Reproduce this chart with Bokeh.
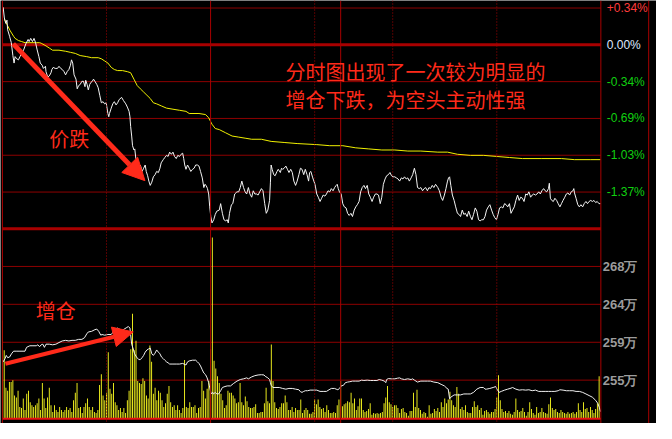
from bokeh.plotting import figure
from bokeh.models import Range1d, Span, Label, Arrow, NormalHead
from bokeh.core.properties import value
from bokeh.embed import file_html
from bokeh.resources import INLINE

# ---------------- data ----------------
N_MIN = 345  # trading minutes in the session shown

# last price, % change vs. previous settlement
PRICE_T = [0.4, 1.1, 1.9, 2.6, 3.0, 4.1, 5.1, 6.0, 6.7, 7.3, 8.2, 9.2, 10.1, 11.1, 12.4, 13.5, 14.8, 15.4, 16.3, 17.3,
           18.2, 19.1, 19.9, 21.0, 21.8, 22.9, 23.6, 24.8, 25.1, 26.1, 27.0, 28.0, 28.5, 29.3, 30.4, 31.7, 32.6, 33.6,
           34.5, 35.5, 36.4, 37.3, 38.3, 39.2, 39.8, 40.5, 41.3, 42.4, 43.1, 43.9, 44.8, 45.8, 46.7, 47.6, 48.0, 48.8,
           49.5, 50.3, 51.0, 51.8, 52.5, 53.3, 54.4, 55.2, 56.1, 57.0, 58.0, 58.9, 59.8, 60.8, 61.3, 61.7, 62.7, 63.6,
           64.5, 65.5, 66.4, 67.3, 68.7, 69.8, 71.1, 72.0, 73.0, 73.5, 73.9, 74.5, 75.0, 75.8, 76.3, 76.9, 77.7, 78.6,
           79.5, 80.5, 81.4, 82.3, 82.9, 83.7, 84.4, 85.2, 86.1, 87.0, 88.0, 88.9, 89.9, 90.8, 91.5, 92.7, 93.6, 94.6,
           95.5, 96.4, 97.4, 98.3, 99.2, 100.2, 101.1, 102.1, 103.0, 103.9, 104.5, 105.1, 105.8, 106.7, 107.7, 108.6,
           109.6, 110.5, 111.4, 112.4, 113.3, 114.2, 115.2, 116.1, 116.7, 117.4, 118.2, 118.9, 119.5, 120.1, 120.8,
           121.8, 122.7, 123.6, 125.0,
           125.8, 126.8, 127.7, 128.7, 129.6, 130.2, 130.9, 132.0, 132.8, 133.9, 135.2, 136.2, 137.1, 138.0, 139.0,
           139.9, 140.8, 141.8, 142.7, 143.7, 144.6, 145.5, 146.5, 147.4, 148.3, 149.3, 150.2, 151.2, 152.1, 153.0,
           154.0, 154.5, 154.9, 155.5, 156.4, 157.2, 158.3, 159.0, 160.2, 160.9, 161.5, 162.4, 163.4, 164.3, 165.2,
           166.2, 167.1, 168.0, 169.0, 169.9, 170.9, 171.8, 172.7, 173.7, 174.6, 175.6, 176.5, 177.1, 177.8, 178.9,
           180.2, 181.2, 182.1, 183.1, 184.0, 184.9, 185.9, 186.8, 187.7, 188.7, 189.6, 190.6, 191.5, 192.4, 193.0,
           193.6, 194.3, 195.3, 196.2, 197.1, 198.1, 199.0, 199.9, 200.9, 201.8, 202.8, 203.7, 204.6, 205.6, 206.5,
           207.4, 208.4, 209.3, 210.3, 211.2, 212.1, 213.1, 214.0, 215.0, 215.9, 216.8, 217.8, 218.7, 219.6, 220.6,
           221.5, 222.5, 223.4, 224.3, 225.3, 226.2, 227.1, 228.1, 229.0, 230.0, 230.9, 231.8, 232.8, 233.7, 234.6,
           235.6, 236.5, 237.5, 238.4, 239.3, 240.3, 241.2, 242.2, 243.1, 244.0, 245.0, 245.9, 246.8, 247.8, 248.7,
           249.7, 251.0,
           251.9, 252.9, 253.8, 254.8, 255.7, 256.6, 257.2, 257.8, 258.5, 259.4, 260.4, 261.3, 262.3, 263.2, 264.1,
           265.1, 266.0, 266.9, 267.9, 268.8, 269.8, 270.7, 271.6, 272.6, 273.5, 274.5, 275.4, 276.3, 277.3, 278.2,
           279.1, 280.1, 281.0, 282.0, 282.9, 283.8, 284.8, 285.7, 286.6, 287.6, 288.5, 289.5, 290.4, 291.3, 292.3,
           293.2, 294.1, 295.1, 296.0, 297.0, 297.9, 298.8, 299.8, 300.7, 301.7, 302.6, 303.5, 304.5, 305.4, 306.3,
           307.3, 308.2, 309.2, 310.1, 311.0, 312.0, 312.9, 313.8, 314.8, 315.3, 315.9, 316.7, 317.6, 318.5, 319.5,
           320.4, 321.4, 322.3, 323.2, 324.2, 325.1, 326.0, 327.0, 327.9, 328.9, 329.4, 329.8, 330.7, 331.7, 332.6,
           333.5, 334.5, 335.4, 336.4, 337.3, 338.2, 339.2, 340.1, 341.0, 342.0, 342.9, 343.9, 344.8]
PRICE_PCT = [0.35, 0.25, 0.20, 0.23, 0.14, 0.08, 0.02, -0.10, -0.17, -0.11, -0.13, -0.14, -0.11, -0.08, -0.04, 0.01,
             0.05, 0.03, 0.06, 0.03, 0.06, 0.02, -0.04, -0.11, -0.17, -0.19, -0.22, -0.20, -0.25, -0.30, -0.29, -0.26,
             -0.23, -0.21, -0.22, -0.22, -0.20, -0.22, -0.23, -0.25, -0.28, -0.25, -0.23, -0.19, -0.14, -0.17, -0.28,
             -0.32, -0.41, -0.38, -0.37, -0.34, -0.34, -0.39, -0.33, -0.37, -0.42, -0.37, -0.35, -0.34, -0.32, -0.34,
             -0.37, -0.40, -0.47, -0.54, -0.53, -0.55, -0.54, -0.64, -0.67, -0.64, -0.59, -0.55, -0.53, -0.56, -0.54,
             -0.51, -0.49, -0.52, -0.55, -0.58, -0.62, -0.67, -0.76, -0.85, -0.94, -0.98, -0.97, -1.06, -1.09, -1.15,
             -1.12, -1.18, -1.15, -1.12, -1.18, -1.22, -1.27, -1.31, -1.28, -1.23, -1.21, -1.18, -1.19, -1.15, -1.10,
             -1.07, -1.05, -1.03, -1.04, -1.00, -1.02, -1.00, -1.04, -1.06, -1.03, -1.04, -1.02, -1.01, -1.06, -1.12,
             -1.16, -1.12, -1.15, -1.18, -1.16, -1.15, -1.12, -1.12, -1.13, -1.18, -1.24, -1.33, -1.30, -1.31, -1.34,
             -1.39, -1.51, -1.60, -1.66, -1.63, -1.58, -1.55, -1.54,
             -1.48, -1.57, -1.63, -1.64, -1.63, -1.66, -1.57, -1.49, -1.48, -1.39, -1.37, -1.37, -1.33, -1.27, -1.33,
             -1.37, -1.39, -1.33, -1.39, -1.42, -1.36, -1.39, -1.39, -1.40, -1.37, -1.34, -1.36, -1.48, -1.57, -1.54,
             -1.45, -1.28, -1.12, -1.16, -1.21, -1.22, -1.18, -1.16, -1.19, -1.15, -1.16, -1.15, -1.13, -1.16, -1.19,
             -1.16, -1.19, -1.27, -1.31, -1.27, -1.21, -1.15, -1.16, -1.21, -1.16, -1.21, -1.27, -1.19, -1.18, -1.24,
             -1.30, -1.39, -1.42, -1.46, -1.43, -1.40, -1.41, -1.39, -1.36, -1.37, -1.34, -1.36, -1.33, -1.31, -1.30,
             -1.34, -1.37, -1.39, -1.48, -1.51, -1.52, -1.57, -1.59, -1.57, -1.60, -1.54, -1.51, -1.49, -1.46, -1.37,
             -1.33, -1.31, -1.34, -1.31, -1.39, -1.42, -1.46, -1.42, -1.39, -1.39, -1.40, -1.48, -1.42, -1.30, -1.25,
             -1.22, -1.21, -1.19, -1.22, -1.23, -1.23, -1.24, -1.25, -1.27, -1.24, -1.25, -1.23, -1.25, -1.24, -1.27,
             -1.24, -1.21, -1.15, -1.21, -1.33, -1.34, -1.33, -1.36, -1.34, -1.33, -1.36, -1.33, -1.34, -1.31, -1.33,
             -1.30, -1.33,
             -1.36, -1.42, -1.45, -1.40, -1.34, -1.27, -1.24, -1.23, -1.31, -1.40, -1.45, -1.51, -1.57, -1.58, -1.60,
             -1.54, -1.58, -1.57, -1.60, -1.55, -1.60, -1.63, -1.58, -1.52, -1.55, -1.63, -1.64, -1.63, -1.63, -1.60,
             -1.54, -1.51, -1.49, -1.54, -1.58, -1.61, -1.63, -1.58, -1.52, -1.51, -1.52, -1.48, -1.49, -1.51, -1.48,
             -1.57, -1.54, -1.51, -1.45, -1.40, -1.45, -1.42, -1.43, -1.46, -1.39, -1.40, -1.37, -1.42, -1.40, -1.39,
             -1.40, -1.39, -1.37, -1.39, -1.36, -1.34, -1.36, -1.37, -1.34, -1.29, -1.43, -1.45, -1.46, -1.43, -1.45,
             -1.48, -1.51, -1.48, -1.45, -1.42, -1.39, -1.38, -1.40, -1.37, -1.36, -1.34, -1.38, -1.43, -1.49, -1.51,
             -1.49, -1.51, -1.48, -1.46, -1.48, -1.46, -1.45, -1.46, -1.45, -1.47, -1.46, -1.48, -1.48]

# average price line, % change
AVG_T = [1.1, 2.6, 4.5, 6.4, 7.3, 9.2, 11.1, 13.0, 15.8, 19.5, 21.4, 22.3, 25.1, 27.0, 28.9, 32.6, 36.4, 39.2, 42.0,
         44.8, 48.6, 51.4, 55.2, 57.0, 58.9, 60.8, 62.7, 64.5, 66.4, 69.2, 72.0, 73.9, 75.8, 77.7, 79.5, 81.4, 83.3,
         85.2, 87.0, 88.9, 91.7, 94.6, 98.3, 102.1, 105.8, 107.7, 113.3, 117.1, 118.9, 120.8, 122.7, 125.0, 128.7,
         132.4, 136.2, 139.9, 143.7, 149.3, 154.9, 162.4, 169.9, 181.2, 188.7, 196.2, 203.7, 211.2, 218.7, 226.2,
         233.7, 241.2, 251.0, 256.6, 262.3, 269.8, 277.3, 284.8, 292.3, 299.8, 311.0, 322.3, 329.8, 339.2, 344.8]
AVG_PCT = [0.24, 0.19, 0.13, 0.08, 0.06, 0.04, 0.03, 0.02, 0.02, 0.02, 0.02, 0.015, -0.01, -0.03, -0.05, -0.05, -0.06,
           -0.07, -0.08, -0.10, -0.11, -0.12, -0.12, -0.13, -0.15, -0.17, -0.21, -0.23, -0.24, -0.24, -0.25, -0.26,
           -0.32, -0.38, -0.41, -0.44, -0.47, -0.50, -0.54, -0.55, -0.57, -0.59, -0.60, -0.61, -0.62, -0.64, -0.64,
           -0.65, -0.68, -0.74, -0.78, -0.79, -0.82, -0.85, -0.86, -0.87, -0.88, -0.88, -0.90, -0.91, -0.92, -0.93,
           -0.94, -0.94, -0.96, -0.97, -0.98, -0.98, -0.99, -0.99, -1.00, -1.00, -1.02, -1.03, -1.03, -1.04, -1.05,
           -1.06, -1.06, -1.06, -1.07, -1.07, -1.07]

# volume per minute (arbitrary units, one value per trading minute)
VOLUME = [102, 71, 32, 29, 38, 38, 40, 24, 22, 29, 12, 11, 21, 9, 26, 29, 17, 14, 12, 14,
          16, 21, 9, 37, 21, 11, 22, 32, 14, 7, 14, 9, 7, 12, 9, 7, 9, 12, 9, 11,
          7, 19, 27, 37, 11, 12, 6, 12, 16, 21, 12, 9, 12, 7, 6, 9, 35, 46, 24, 19,
          27, 69, 31, 26, 37, 17, 14, 9, 11, 7, 11, 6, 19, 29, 72, 109, 71, 81, 39, 37,
          36, 42, 39, 24, 21, 76, 59, 26, 32, 19, 29, 27, 19, 12, 16, 26, 34, 17, 12, 14,
          9, 14, 9, 6, 11, 61, 12, 11, 17, 12, 12, 14, 6, 11, 12, 39, 29, 21, 31, 39,
          72, 188, 60, 52, 44,
          37, 26, 19, 11, 14, 29, 27, 27, 24, 21, 16, 17, 37, 17, 14, 23, 18, 12, 11, 11,
          12, 15, 6, 6, 7, 7, 16, 32, 18, 16, 77, 39, 17, 11, 10, 12, 16, 16, 24, 17,
          9, 9, 12, 7, 11, 9, 9, 20, 6, 9, 11, 9, 5, 5, 7, 20, 15, 20, 12, 10,
          11, 7, 14, 9, 6, 6, 7, 6, 14, 20, 39, 13, 15, 16, 18, 17, 27, 16, 21, 9,
          13, 21, 21, 9, 7, 8, 10, 16, 4, 6, 5, 6, 5, 6, 7, 16, 22, 34, 17, 15,
          12, 14, 14, 11, 6, 10, 11, 7, 6, 3, 8, 8, 27, 12, 30, 11, 9, 5, 7, 6,
          2, 14, 5, 6, 10, 8,
          11, 7, 17, 12, 21, 16, 20, 28, 19, 14, 12, 33, 26, 10, 12, 9, 14, 7, 6, 6,
          12, 18, 12, 14, 9, 11, 4, 8, 9, 7, 5, 7, 7, 10, 22, 45, 19, 10, 7, 8,
          6, 8, 5, 4, 7, 21, 9, 7, 8, 11, 7, 3, 7, 17, 10, 6, 4, 12, 6, 7,
          11, 7, 6, 5, 15, 22, 11, 9, 10, 7, 6, 9, 7, 6, 5, 7, 5, 6, 7, 5,
          7, 16, 9, 7, 17, 10, 11, 7, 12, 9, 6, 10, 16, 44]

# open interest, in 万 (10k) lots
OI_T = [0.4, 1.5, 2.2, 3.0, 4.1, 5.2, 6.4, 8.3, 10.1, 13.0, 13.9, 15.8, 17.6, 19.5, 20.4, 21.4, 22.3, 23.3, 24.2,
        25.1, 27.0, 28.9, 30.8, 32.6, 34.5, 36.4, 38.3, 40.1, 42.0, 43.9, 45.8, 47.3, 48.6, 49.5, 51.4, 53.3, 54.4,
        55.5, 56.7, 57.4, 58.9, 60.8, 62.7, 64.5, 65.5, 66.4, 67.9, 69.2, 70.2, 71.7, 72.6, 73.5, 73.9, 74.5, 75.4,
        76.2, 77.3, 78.6, 79.5, 80.5, 81.4, 82.3, 83.3, 84.2, 85.2, 86.1, 87.0, 88.0, 88.9, 89.9, 90.8, 91.7, 92.7,
        93.6, 94.6, 95.5, 96.4, 98.3, 100.2, 102.1, 103.9, 105.8, 106.7, 107.7, 109.6, 111.4, 112.4, 113.3, 114.2,
        115.2, 116.1, 117.1, 118.0, 118.9, 119.3, 119.9, 120.4, 121.2, 121.7, 122.7, 123.6, 124.6,
        125.8, 126.8, 128.3, 129.6, 131.5, 133.3, 135.2, 137.1, 139.0, 140.8, 141.8, 143.7, 145.5, 147.4, 149.3,
        150.8, 151.5, 153.0, 154.0, 154.5, 154.9, 155.9, 157.7, 159.6, 161.5, 163.4, 165.2, 167.1, 169.0, 170.9,
        171.8, 172.7, 173.7, 174.6, 175.9, 177.4, 179.3, 181.2, 183.1, 184.9, 186.8, 188.3, 189.6, 191.5, 192.4,
        193.4, 194.3, 195.3, 196.6, 197.7, 199.0, 200.3, 201.8, 203.7, 205.6, 207.1, 208.4, 210.3, 212.1, 214.0,
        215.9, 217.2, 218.7, 220.2, 221.0, 221.5, 222.5, 224.3, 226.2, 227.7, 229.0, 230.0, 231.8, 233.7, 235.6,
        236.5, 237.5, 238.4, 239.3, 241.2, 243.1, 245.0, 246.8, 248.7, 251.0,
        252.9, 254.8, 256.3, 257.0, 257.8, 258.5, 260.4, 262.3, 264.1, 266.0, 267.9, 269.8, 271.6, 273.5, 275.4,
        277.3, 278.2, 279.1, 281.0, 282.9, 284.4, 285.1, 286.3, 287.6, 289.5, 291.3, 293.2, 294.1, 296.0, 297.9,
        299.8, 301.7, 303.5, 305.4, 307.3, 309.2, 311.0, 312.9, 314.8, 316.7, 318.5, 320.4, 321.4, 323.2, 325.1,
        327.0, 328.9, 330.7, 332.6, 334.5, 336.4, 338.2, 340.1, 342.0, 343.3, 344.2, 344.8]
OI_WAN = [257.09, 257.46, 257.83, 257.57, 257.64, 258.01, 258.31, 258.31, 258.31, 258.31, 258.75, 258.93, 258.93,
          258.93, 259.04, 258.82, 259.04, 259.11, 258.75, 259.11, 259.11, 259.04, 259.11, 259.30, 259.48, 259.55,
          259.48, 259.55, 259.55, 259.66, 259.66, 259.85, 260.29, 260.51, 260.58, 260.77, 260.84, 260.58, 260.14,
          260.22, 260.14, 260.22, 260.22, 260.66, 260.88, 260.95, 260.77, 260.66, 260.84, 261.02, 261.13, 260.95,
          260.22, 259.11, 258.56, 258.01, 257.64, 257.35, 257.35, 257.57, 257.83, 258.20, 258.45, 258.56, 258.67,
          258.01, 257.83, 258.09, 258.45, 258.20, 258.01, 257.64, 257.46, 257.28, 257.09, 256.98, 256.84, 256.84,
          256.84, 256.84, 256.91, 256.73, 257.09, 257.20, 257.28, 257.28, 257.09, 256.91, 256.62, 256.18, 255.81,
          255.62, 255.26, 254.71, 254.34, 253.79, 253.42, 253.60, 253.42, 253.60, 253.42, 253.42,
          253.79, 254.16, 254.27, 254.34, 254.34, 254.63, 254.89, 255.07, 255.15, 255.26, 255.15, 255.37, 255.51,
          255.59, 255.62, 255.59, 255.44, 255.26, 255.07, 254.71, 254.41, 254.16, 254.16, 254.16, 254.05, 253.97,
          254.05, 254.05, 253.97, 253.90, 253.68, 253.60, 253.71, 253.79, 253.79, 253.86, 253.86, 253.86, 253.71,
          253.71, 253.71, 253.90, 254.05, 254.05, 253.97, 253.90, 254.05, 254.34, 254.41, 254.71, 254.78, 254.82,
          254.89, 254.89, 254.89, 255.00, 254.96, 255.00, 254.96, 254.96, 254.96, 255.07, 255.00, 254.89, 254.71,
          255.07, 255.18, 255.15, 255.15, 255.22, 255.26, 255.15, 255.07, 255.15, 255.07, 255.15, 255.00, 254.89,
          254.78, 254.89, 254.89, 254.89, 254.89, 254.78, 254.71,
          254.52, 254.34, 254.05, 253.97, 252.87, 253.05, 253.31, 253.31, 253.31, 253.42, 253.42, 253.42, 253.60,
          253.97, 254.16, 254.16, 253.97, 253.97, 254.05, 254.16, 254.27, 253.97, 253.60, 253.71, 253.86, 253.97,
          254.08, 254.16, 253.97, 253.86, 253.90, 253.86, 253.90, 253.79, 253.86, 253.71, 253.71, 253.71, 253.71,
          253.71, 253.71, 253.79, 253.90, 253.86, 253.79, 253.79, 253.79, 253.71, 253.71, 253.60, 253.42, 253.24,
          253.05, 252.69, 252.32, 251.84, 251.40]

PCT_TICKS = [0.343, 0.0, -0.343, -0.686, -1.029, -1.372]
PCT_LABELS = ["+0.34%", "0.00%", "-0.34%", "-0.69%", "-1.03%", "-1.37%"]
PCT_FLOOR = -1.715           # bottom edge of the price panel
OI_TICKS = [268.0, 263.67, 259.33, 255.0]
OI_LABELS = ["268万", "264万", "259万", "255万"]
SESSION_BREAKS = [120, 195]          # solid separators (minutes)
HOUR_MARKS = [60, 180, 225, 285]      # dotted separators (minutes)

NOTE_LINES = ["分时图出现了一次较为明显的", "增仓下跌，为空头主动性强"]
NOTE_PRICE = "价跌"
NOTE_OI = "增仓"

# ---------------- layout (reference geometry, pixels of the 672x439 original) ----------------
W, H = 656, 423
RW, RH = 672.0, 439.0
X0_PX, X1_PX = 2.0, 615.0          # minute 0 and minute N_MIN
ZERO_PX, ROW_PX = 46.0, 38.2       # 0.00% line and price grid step
OI_BASE_PX, OI_ROW_PX = 394.0, 39.33
VOL_BASE_PX, VOL_MAX_PX = 434.0, 246.0

mpp = N_MIN / (X1_PX - X0_PX)
ppp = (PCT_TICKS[0] - PCT_TICKS[1]) / ROW_PX
opp = (OI_TICKS[0] - OI_TICKS[-1]) / (OI_ROW_PX * (len(OI_TICKS) - 1))
vpp = max(VOLUME) / (VOL_BASE_PX - VOL_MAX_PX)


def mx(px):
    return (px - X0_PX) * mpp


def py(px):
    return (ZERO_PX - px) * ppp


def oy(px):
    return OI_TICKS[-1] + (OI_BASE_PX - px) * opp


p = figure(width=W, height=H, output_backend="svg", toolbar_location=None,
           x_range=Range1d(mx(0), mx(RW)), y_range=Range1d(py(RH), py(0)),
           min_border=0, min_border_left=0, min_border_right=0, min_border_top=0, min_border_bottom=0)
p.extra_y_ranges = {
    "oi": Range1d(oy(RH), oy(0)),
    "vol": Range1d(-(RH - VOL_BASE_PX) * vpp, VOL_BASE_PX * vpp),
}
p.axis.visible = False
p.grid.visible = False
p.outline_line_color = None
p.background_fill_color = "#000000"
p.border_fill_color = "#000000"

GRID = "#8e0000"
FRAME = "#a80000"

# horizontal grid, price panel
thin = [t for t in PCT_TICKS if t != 0.0]
p.segment(x0=[0] * len(thin), x1=[N_MIN] * len(thin), y0=thin, y1=thin, line_color=GRID, line_width=1)
p.segment(x0=[0, 0], x1=[N_MIN, N_MIN], y0=[0.0, PCT_FLOOR], y1=[0.0, PCT_FLOOR],
          line_color=FRAME, line_width=3)
# horizontal grid, lower panel
p.segment(x0=[0] * len(OI_TICKS), x1=[N_MIN] * len(OI_TICKS), y0=OI_TICKS, y1=OI_TICKS,
          line_color=GRID, line_width=1, y_range_name="oi")

# vertical separators
for m in HOUR_MARKS:
    p.add_layout(Span(location=m, dimension="height", line_color=FRAME, line_width=1, line_dash="1 2"))
for m in SESSION_BREAKS + [0, N_MIN, mx(664)]:
    p.add_layout(Span(location=m, dimension="height", line_color=FRAME, line_width=1))

# volume bars
p.vbar(x=list(range(N_MIN)), top=VOLUME, bottom=0, width=0.52, fill_color="#ffff20",
       line_color=None, y_range_name="vol")
p.segment(x0=[0], x1=[N_MIN], y0=[0], y1=[0], line_color="#e81010", line_width=2, y_range_name="vol")

# open interest
p.line(OI_T, OI_WAN, line_color="#f0f0f0", line_width=1, y_range_name="oi")

# average + price lines
p.line(AVG_T, AVG_PCT, line_color="#f0f000", line_width=1)
p.line(PRICE_T, PRICE_PCT, line_color="#f4f4f4", line_width=1)

# right-hand scale labels
p.text(x=[mx(621)] * len(PCT_TICKS), y=PCT_TICKS, text=PCT_LABELS,
       text_color=["#ff3b3b", "#dfe8ff", "#10d010", "#10d010", "#10d010", "#10d010"],
       text_font=value("Liberation Sans"), text_font_size="12px", text_baseline="middle", text_align="left")
p.text(x=[mx(617)] * len(OI_TICKS), y=OI_TICKS, text=OI_LABELS, text_color="#9c9c9c",
       text_font=value("Liberation Sans"), text_font_size="13px", text_font_style="bold",
       text_baseline="middle", text_align="left", y_range_name="oi")

# annotations
RED = "#ff2a1a"
for i, line in enumerate(NOTE_LINES):
    p.add_layout(Label(x=mx(292), y=py(74 + 29 * i), text=line, text_color=RED,
                       text_font="Noto Sans CJK SC", text_font_size="20px",
                       text_baseline="middle", text_align="left"))
p.add_layout(Label(x=mx(50), y=py(143), text=NOTE_PRICE, text_color=RED, text_font="Noto Sans CJK SC",
                   text_font_size="20px", text_baseline="middle", text_align="left"))
p.add_layout(Label(x=mx(36), y=oy(322), text=NOTE_OI, text_color=RED, text_font="Noto Sans CJK SC",
                   text_font_size="20px", text_baseline="middle", text_align="left", y_range_name="oi"))

p.add_layout(Arrow(x_start=mx(13), y_start=py(45), x_end=mx(148), y_end=py(187),
                   line_color=RED, line_width=5,
                   end=NormalHead(size=22, fill_color=RED, line_color=RED)))
p.add_layout(Arrow(x_start=mx(5), y_start=oy(377), x_end=mx(136), y_end=oy(344),
                   line_color=RED, line_width=4, y_range_name="oi",
                   end=NormalHead(size=20, fill_color=RED, line_color=RED)))

html = file_html(p, INLINE)
html = html.replace("<body>", '<body style="background:#000000">', 1)
open("out.html", "w").write(html)
